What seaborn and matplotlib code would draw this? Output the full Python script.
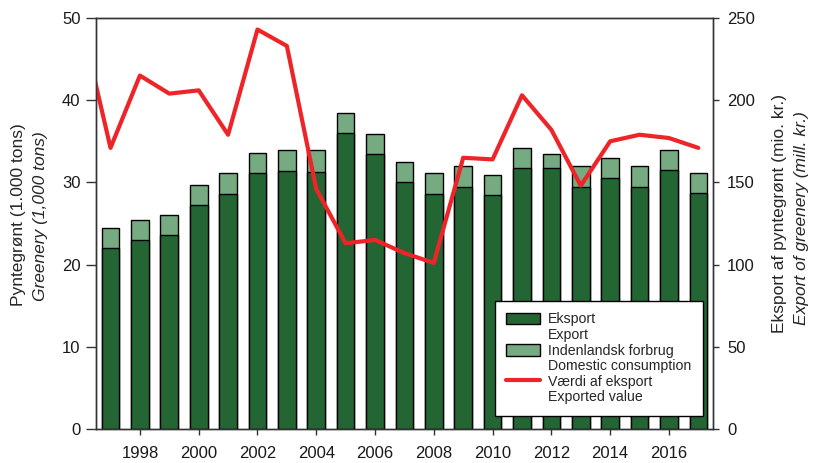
import numpy as np
import pandas as pd
import seaborn as sns
import matplotlib.pyplot as plt
from matplotlib.patches import Patch
from matplotlib.lines import Line2D

years = list(range(1997, 2018))
export = [22.0, 23.0, 23.6, 27.2, 28.6, 31.1, 31.4, 31.3, 36.0, 33.4, 30.0,
          28.6, 29.4, 28.5, 31.7, 31.7, 29.4, 30.5, 29.4, 31.5, 28.7]
total = [24.4, 25.4, 26.0, 29.7, 31.1, 33.6, 33.9, 33.9, 38.4, 35.9, 32.5,
         31.1, 32.0, 30.9, 34.2, 33.4, 32.0, 33.0, 32.0, 33.9, 31.1]
value_years = list(range(1996, 2018))
value = [248, 171, 215, 204, 206, 179, 243, 233, 146, 113, 115, 107,
         101, 165, 164, 203, 182, 148, 175, 179, 177, 171]

df = pd.DataFrame({"year": years, "export": export, "total": total})
dv = pd.DataFrame({"year": value_years, "value": value})

dark = "#236634"
light = "#76aa80"
red = "#ee2428"

sns.set_style("ticks")
plt.rcParams['font.family'] = ['Liberation Sans', 'DejaVu Sans']
plt.rcParams['font.size'] = 12

fig = plt.figure(figsize=(8.19, 4.63), dpi=100)
ax = fig.add_axes([0.117, 0.0734, 0.7536, 0.8877])

sns.barplot(data=df, x="year", y="total", native_scale=True, color=light,
            saturation=1, width=0.6, edgecolor="black", linewidth=1, ax=ax)
sns.barplot(data=df, x="year", y="export", native_scale=True, color=dark,
            saturation=1, width=0.6, edgecolor="black", linewidth=1, ax=ax)

ax.set_xlim(1996.5, 2017.5)
ax.set_ylim(0, 50)
ax.set_xticks(range(1998, 2017, 2))
ax.set_yticks(range(0, 51, 10))
ax.set_xlabel("")
ax.set_ylabel("")

ax2 = ax.twinx()
sns.lineplot(data=dv, x="year", y="value", color=red, linewidth=3, ax=ax2)
ax2.set_ylim(0, 250)
ax2.set_yticks(range(0, 251, 50))
ax2.set_ylabel("")
ax2.set_xlim(1996.5, 2017.5)

for a in (ax, ax2):
    for s in a.spines.values():
        s.set_color("#333333")
        s.set_linewidth(1)
    a.tick_params(direction="out", width=1, color="#333333",
                  labelsize=12, labelcolor="#1a1a1a")
ax.tick_params(axis="x", length=4, pad=8)
ax.tick_params(axis="y", length=7, pad=4)
ax2.tick_params(axis="y", length=4, pad=6)

blank = Patch(facecolor="none", edgecolor="none")
handles = [Patch(facecolor=dark, edgecolor="black"), blank,
           Patch(facecolor=light, edgecolor="black"), blank,
           Line2D([], [], color=red, linewidth=3), blank]
labels = ["Eksport", "Export", "Indenlandsk forbrug", "Domestic consumption",
          "Værdi af eksport", "Exported value"]
leg = ax2.legend(handles, labels, loc="lower right", bbox_to_anchor=(0.984, 0.032),
                 borderaxespad=0, fancybox=False, framealpha=1, edgecolor="black",
                 fontsize=10.2, labelspacing=0.11, handlelength=2.4, handleheight=0.9,
                 handletextpad=0.55, borderpad=0.82)
leg.get_frame().set_linewidth(1)

fig.text(0.023, 0.536, "Pyntegrønt (1.000 tons)", rotation=90, ha="center", va="center",
         fontsize=12.5)
fig.text(0.049, 0.534, "Greenery (1,000 tons)", rotation=90, ha="center", va="center",
         fontsize=12.5, style="italic")
fig.text(0.952, 0.538, "Eksport af pyntegrønt (mio. kr.)", rotation=90, ha="center",
         va="center", fontsize=12.5)
fig.text(0.979, 0.529, "Export of greenery (mill. kr.)", rotation=90, ha="center",
         va="center", fontsize=12.5, style="italic")

fig.savefig("out.png", dpi=100)
